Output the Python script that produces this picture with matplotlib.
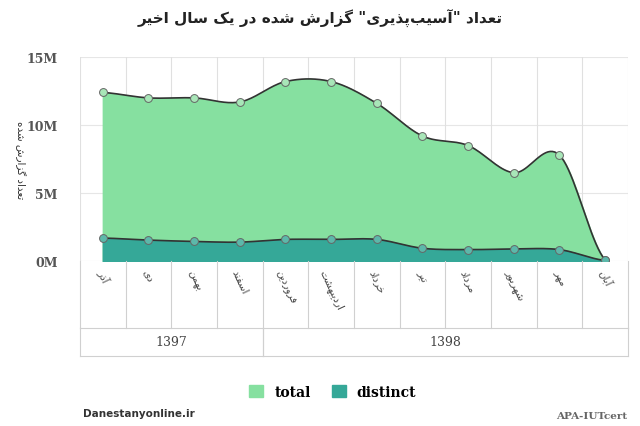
import numpy as np
import matplotlib
matplotlib.use('Agg')
from matplotlib import pyplot as plt

# --- minimal Persian shaping (matplotlib has no RTL / joining) ---
FORMS = {
    'ا': (0xFE8D, 0xFE8E), 'آ': (0xFE81, 0xFE82), 'د': (0xFEA9, 0xFEAA), 'ذ': (0xFEAB, 0xFEAC),
    'ر': (0xFEAD, 0xFEAE), 'ز': (0xFEAF, 0xFEB0), 'و': (0xFEED, 0xFEEE), 'ژ': (0xFB8A, 0xFB8B),
    'ب': (0xFE8F,), 'ت': (0xFE95,), 'ج': (0xFE9D,), 'ح': (0xFEA1,), 'خ': (0xFEA5,),
    'س': (0xFEB1,), 'ش': (0xFEB5,), 'ع': (0xFEC9,), 'ف': (0xFED1,), 'ق': (0xFED5,),
    'ل': (0xFEDD,), 'م': (0xFEE1,), 'ن': (0xFEE5,), 'ه': (0xFEE9,), 'پ': (0xFB56,),
    'چ': (0xFB7A,), 'ک': (0xFB8E,), 'گ': (0xFB92,), 'ی': (0xFBFC,),
}


def forms(c):
    f = FORMS[c]
    if len(f) == 1:
        b = f[0]
        return (b, b + 1, b + 2, b + 3)
    return (f[0], f[1], None, None)


def fa(s):
    out = []
    for i, c in enumerate(s):
        if c not in FORMS:
            if c != '\u200c':
                out.append(c)
            continue
        p = s[i - 1] if i > 0 else ''
        n = s[i + 1] if i + 1 < len(s) else ''
        jp = p in FORMS and forms(p)[2] is not None
        jn = forms(c)[2] is not None and n in FORMS
        iso, fin, ini, med = forms(c)
        if jp and jn:
            cp = med
        elif jp:
            cp = fin
        elif jn:
            cp = ini
        else:
            cp = iso
        out.append(chr(cp))
    return ''.join(out[::-1])


months = ['آذر', 'دی', 'بهمن', 'اسفند', 'فروردین', 'اردیبهشت', 'خرداد',
          'تیر', 'مرداد', 'شهریور', 'مهر', 'آبان']
years = ['1397', '1398']
year_counts = [4, 8]
total = [12.4, 12.0, 12.0, 11.7, 13.2, 13.2, 11.6, 9.2, 8.5, 6.5, 7.8, 0.1]
distinct = [1.7, 1.55, 1.45, 1.4, 1.6, 1.6, 1.6, 0.95, 0.85, 0.9, 0.85, 0.05]


def smooth(y, k=20):
    # catmull-rom curve through the points, for drawing only
    y = np.asarray(y, float)
    pts = np.concatenate([[y[0]], y, [y[-1]]])
    xs, ys = [], []
    for i in range(len(y) - 1):
        p0, p1, p2, p3 = pts[i:i + 4]
        t = np.linspace(0, 1, k, endpoint=False)
        v = 0.5 * (2 * p1 + (-p0 + p2) * t + (2 * p0 - 5 * p1 + 4 * p2 - p3) * t ** 2
                   + (-p0 + 3 * p1 - 3 * p2 + p3) * t ** 3)
        xs.append(i + t)
        ys.append(v)
    xs.append([len(y) - 1])
    ys.append([y[-1]])
    return np.concatenate(xs), np.concatenate(ys)


fig = plt.figure(figsize=(6.4, 4.27), dpi=100)
ax = fig.add_axes([0.125, 0.386, 0.856, 0.478])
n = len(months)
ax.set_xlim(-0.5, n - 0.5)
ax.set_ylim(0, 15)

for vals, fc, mc in [(total, '#86e0a0', '#a8e6b8'), (distinct, '#35a898', '#5cb8aa')]:
    sx, sy = smooth(vals)
    ax.fill_between(sx, 0, sy, color=fc, zorder=2)
    ax.plot(sx, sy, color='#333333', lw=1.2, zorder=3)
    ax.scatter(range(n), vals, s=32, color=mc, edgecolor='#666666', lw=0.7, zorder=4)

ax.set_yticks([0, 5, 10, 15])
ax.set_yticklabels(['0M', '5M', '10M', '15M'], family='DejaVu Serif', fontweight='bold',
                   color='#555555', fontsize=9)
ax.set_xticks([])
ax.tick_params(axis='y', length=0, pad=16)
ax.grid(axis='y', color='#e6e6e6', lw=0.8)
for i in range(n + 1):
    ax.axvline(i - 0.5, color='#e0e0e0', lw=0.8, zorder=1)
for s in ax.spines.values():
    s.set_visible(False)
ax.set_axisbelow(True)
ax.set_ylabel(fa('تعداد گزارش شده'), fontsize=7.5, color='#333333', labelpad=8, rotation=270,
              va='bottom')

# category table below the plot
trans = ax.get_xaxis_transform()
row1, row2 = -0.325, -0.465
for i in range(n + 1):
    ax.plot([i - 0.5, i - 0.5], [0, row1], transform=trans, color='#d0d0d0', lw=0.8, clip_on=False)
for i, m in enumerate(months):
    ax.text(i, -0.03, fa(m), transform=trans, rotation=-65, ha='center', va='top',
            fontsize=7.5, color='#444444')
ax.plot([-0.5, n - 0.5], [row1, row1], transform=trans, color='#d0d0d0', lw=0.8, clip_on=False)
ax.plot([-0.5, n - 0.5], [row2, row2], transform=trans, color='#d0d0d0', lw=0.8, clip_on=False)
start = 0
for y, c in zip(years, year_counts):
    for xb in (start - 0.5, start + c - 0.5):
        ax.plot([xb, xb], [row1, row2], transform=trans, color='#d0d0d0', lw=0.8, clip_on=False)
    ax.text(start + c / 2 - 0.5, (row1 + row2) / 2, y, transform=trans, ha='center', va='center',
            family='DejaVu Serif', fontsize=9, color='#444444')
    start += c

fig.text(0.5, 0.955, fa('تعداد "آسیب\u200cپذیری" گزارش شده در یک سال اخیر'), ha='center',
         va='center', fontsize=11, fontweight='bold', color='#222222')

h = [plt.Rectangle((0, 0), 1, 1, color='#86e0a0'), plt.Rectangle((0, 0), 1, 1, color='#35a898')]
fig.legend(h, ['total', 'distinct'], loc='center', bbox_to_anchor=(0.52, 0.08), ncol=2,
           frameon=False, handlelength=1.0, handleheight=1.0, columnspacing=1.5,
           prop={'family': 'DejaVu Serif', 'weight': 'bold', 'size': 10})
fig.text(0.13, 0.03, 'Danestanyonline.ir', fontsize=7.5, fontweight='bold', color='#333333', va='center')
fig.text(0.98, 0.025, 'APA-IUTcert', fontsize=7.5, fontweight='bold', family='DejaVu Serif',
         color='#666666', ha='right', va='center')

fig.savefig('out.png', dpi=100)
